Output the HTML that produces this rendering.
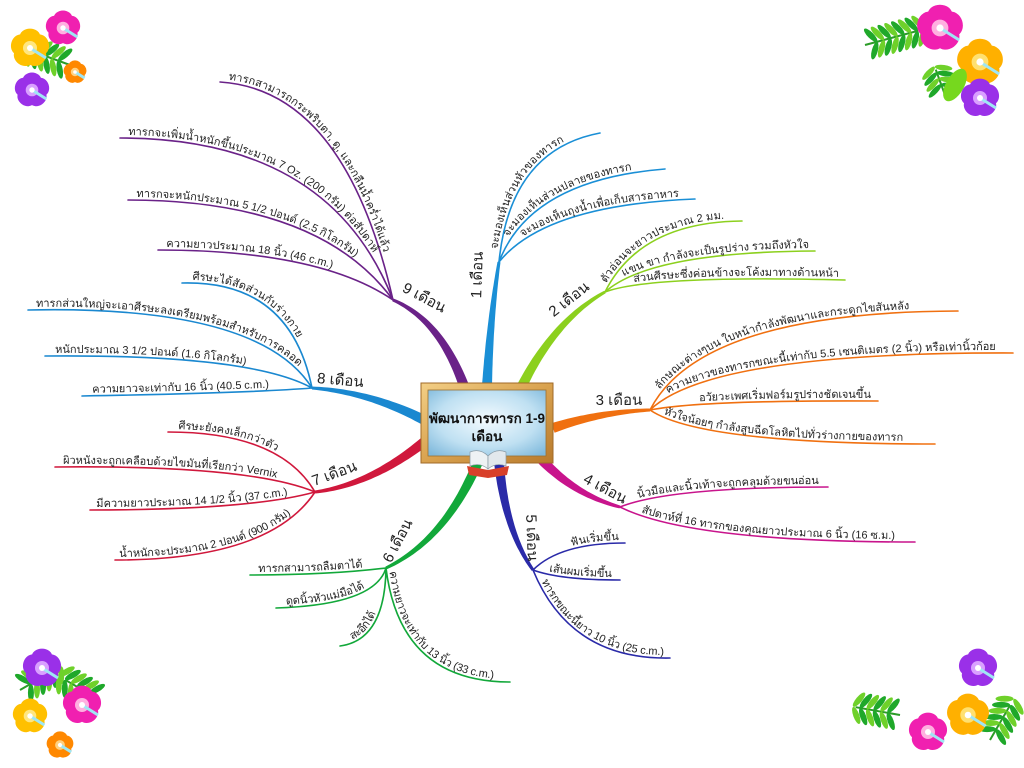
<!DOCTYPE html>
<html><head><meta charset="utf-8">
<style>
html,body{margin:0;padding:0;background:#fff;width:1024px;height:768px;overflow:hidden}
svg{display:block;font-family:"Liberation Sans","DejaVu Sans",sans-serif}
.lf{font-size:11px;fill:#222}
.br{font-size:15px;fill:#222}
</style></head>
<body>
<svg id="s" width="1024" height="768" viewBox="0 0 1024 768" xmlns="http://www.w3.org/2000/svg">
<defs>
<radialGradient id="bg" cx="50%" cy="45%" r="70%"><stop offset="0" stop-color="#f4fbff"/><stop offset="0.6" stop-color="#bfe0f2"/><stop offset="1" stop-color="#7fb9dc"/></radialGradient>
<linearGradient id="fr" x1="0" y1="0" x2="1" y2="1"><stop offset="0" stop-color="#f3cf86"/><stop offset="0.5" stop-color="#d9a24f"/><stop offset="1" stop-color="#b87a2c"/></linearGradient>
</defs>
<g id="flowers"></g>
<g id="leaves"></g>
<g id="trunks"></g>
<g id="labels"></g>
<g id="center">
<rect x="421" y="383" width="132" height="80" fill="url(#fr)" stroke="#a06a28" stroke-width="1"/>
<rect x="428" y="390" width="118" height="66" fill="url(#bg)" stroke="#9c7030" stroke-width="0.8"/>
<text x="487" y="423" text-anchor="middle" font-size="13.5" font-weight="bold" fill="#111">พัฒนาการทารก 1-9</text>
<text x="487" y="441" text-anchor="middle" font-size="13.5" font-weight="bold" fill="#111">เดือน</text>
<path d="M467 466 L488 470 L509 466 L507 475 L488 478 L469 475 Z" fill="#d8402a"/>
<path d="M470 452 Q480 448 488 456 L488 469 Q480 462 470 466 Z" fill="#eef2f4" stroke="#8a9aa4" stroke-width="0.7"/>
<path d="M506 452 Q496 448 488 456 L488 469 Q496 462 506 466 Z" fill="#e2e8ec" stroke="#8a9aa4" stroke-width="0.7"/>
</g>
</svg>
<script>
var NS="http://www.w3.org/2000/svg";
function el(t,a,p,txt){var e=document.createElementNS(NS,t);for(var k in a)e.setAttribute(k,a[k]);if(txt!==undefined)e.textContent=txt;document.getElementById(p).appendChild(e);return e;}
var id=0;
function q(a,c,b,t){var u=1-t;return [u*u*a[0]+2*u*t*c[0]+t*t*b[0],u*u*a[1]+2*u*t*c[1]+t*t*b[1]];}
function trunk(S,C,H,w0,w1,col){
 var L=[],R=[];
 for(var i=0;i<=30;i++){var t=i/30;var p=q(S,C,H,t);var p2=q(S,C,H,Math.min(1,t+0.01)),p1=q(S,C,H,Math.max(0,t-0.01));
  var dx=p2[0]-p1[0],dy=p2[1]-p1[1],l=Math.hypot(dx,dy);var nx=-dy/l,ny=dx/l;var w=(w0+(w1-w0)*t)/2;
  L.push((p[0]+nx*w).toFixed(1)+","+(p[1]+ny*w).toFixed(1));R.unshift((p[0]-nx*w).toFixed(1)+","+(p[1]-ny*w).toFixed(1));}
 el("polygon",{points:L.concat(R).join(" "),fill:col},"trunks");
}
function leaf(H,E,col,txt,opt){
 opt=opt||{};
 var f=opt.f!==undefined?opt.f:0.25;
 var C=opt.c||[H[0]+f*(E[0]-H[0]),E[1]];
 var right=E[0]>H[0];
 var d=right?("M"+H+" Q"+C+" "+E):("M"+E+" Q"+C+" "+H);
 var pid="p"+(id++);
 el("path",{id:pid,d:d,fill:"none",stroke:col,"stroke-width":opt.w||1.6,"stroke-linecap":"round"},"leaves");
 var t=el("text",{"class":"lf",dy:-3},"labels");
 var tp=document.createElementNS(NS,"textPath");tp.setAttribute("href","#"+pid);
 tp.setAttribute("startOffset",opt.o!==undefined?opt.o:(right?12:6));tp.textContent=txt;t.appendChild(tp);
}
function label(x,y,r,txt){el("text",{"class":"br",x:x,y:y,"text-anchor":"middle",transform:"rotate("+r+" "+x+" "+y+")"},"labels",txt);}

var c="#1a8fd6";
trunk([487,386],[490,320],[499,262],10,3,c);
leaf([499,262],[600,133],c,"จะมองเห็นส่วนหัวของทารก",{c:[510,150],o:12});
leaf([499,262],[665,169],c,"จะมองเห็นส่วนปลายของทารก",{c:[530,180],o:26});
leaf([499,262],[695,199],c,"จะมองเห็นถุงน้ำเพื่อเก็บสารอาหาร",{c:[545,205],o:34});
label(482,275,-88,"1 เดือน");
c="#8cd01e";
trunk([522,386],[555,320],[605,292],10,3,c);
leaf([605,292],[742,221],c,"ตัวอ่อนจะยาวประมาณ 2 มม.",{c:[640,222],o:8});
leaf([605,292],[815,251],c,"แขน ขา กำลังจะเป็นรูปร่าง รวมถึงหัวใจ",{c:[650,252],o:24});
leaf([605,292],[845,280],c,"ส่วนศีรษะซึ่งค่อนข้างจะโค้งมาทางด้านหน้า",{c:[650,275],o:30});
label(572,303,-38,"2 เดือน");
c="#f07010";
trunk([553,428],[600,412],[650,410],10,3,c);
leaf([650,410],[958,311],c,"ลักษณะต่างๆบน ใบหน้ากำลังพัฒนาและกระดูกไขสันหลัง",{c:[700,312],o:22});
leaf([650,410],[1013,353],c,"ความยาวของทารกขณะนี้เท่ากับ 5.5 เซนติเมตร (2 นิ้ว) หรือเท่านิ้วก้อย",{c:[710,352],o:24});
leaf([650,410],[878,401],c,"อวัยวะเพศเริ่มฟอร์มรูปร่างชัดเจนขึ้น",{c:[700,400],o:50});
leaf([650,410],[935,444],c,"หัวใจน้อยๆ กำลังสูบฉีดโลหิตไปทั่วร่างกายของทารก",{c:[700,444],o:14});
label(619,405,0,"3 เดือน");
c="#c8148c";
trunk([542,460],[575,495],[620,507],10,3,c);
leaf([620,507],[828,487],c,"นิ้วมือและนิ้วเท้าจะถูกคลุมด้วยขนอ่อน",{c:[670,487],o:20});
leaf([620,507],[915,542],c,"สัปดาห์ที่ 16 ทารกของคุณยาวประมาณ 6 นิ้ว (16 ซ.ม.)",{c:[690,542],o:22});
label(603,493,28,"4 เดือน");
c="#2a2aa8";
trunk([499,462],[505,530],[533,570],10,3,c);
leaf([533,570],[625,543],c,"ฟันเริ่มขึ้น",{c:[560,543],o:45});
leaf([533,570],[620,580],c,"เส้นผมเริ่มขึ้น",{c:[560,580],o:16});
leaf([533,570],[670,658],c,"ทารกขณะนี้ยาว 10 นิ้ว (25 c.m.)",{c:[570,660],o:14});
label(527,538,88,"5 เดือน");
c="#12a83a";
trunk([478,462],[445,540],[386,568],10,3,c);
leaf([386,568],[250,575],c,"ทารกสามารถลืมตาได้",{c:[330,575],o:8});
leaf([386,568],[276,608],c,"ดูดนิ้วหัวแม่มือได้",{c:[375,605],o:10});
leaf([386,568],[340,646],c,"สะอึกได้",{c:[385,640],o:14});
leaf([386,568],[510,682],c,"ความยาวจะเท่ากับ 13 นิ้ว (33 c.m.)",{c:[400,682],o:4});
label(402,543,-62,"6 เดือน");
c="#d0183c";
trunk([424,442],[370,485],[315,492],10,3,c);
leaf([315,492],[168,432],c,"ศีรษะยังคงเล็กกว่าตัว",{c:[280,432],o:10});
leaf([315,492],[55,467],c,"ผิวหนังจะถูกเคลือบด้วยไขมันที่เรียกว่า Vernix",{c:[250,465],o:8});
leaf([315,492],[90,510],c,"มีความยาวประมาณ 14 1/2 นิ้ว (37 c.m.)",{c:[250,510],o:6});
leaf([315,492],[115,560],c,"น้ำหนักจะประมาณ 2 ปอนด์ (900 กรัม)",{c:[270,560],o:4});
label(336,478,-20,"7 เดือน");
c="#1a88d0";
trunk([424,420],[370,392],[312,388],10,3,c);
leaf([312,388],[182,283],c,"ศีรษะได้สัดส่วนกับร่างกาย",{c:[290,280],o:10});
leaf([312,388],[28,310],c,"ทารกส่วนใหญ่จะเอาศีรษะลงเตรียมพร้อมสำหรับการคลอด",{c:[260,305],o:8});
leaf([312,388],[45,356],c,"หนักประมาณ 3 1/2 ปอนด์ (1.6 กิโลกรัม)",{c:[250,354],o:10});
leaf([312,388],[82,396],c,"ความยาวจะเท่ากับ 16 นิ้ว (40.5 c.m.)",{c:[250,393],o:10});
label(340,385,5,"8 เดือน");
c="#6a2288";
trunk([464,386],[440,320],[393,300],10,3,c);
leaf([393,300],[220,82],c,"ทารกสามารถกระพริบตา, ดู, และกลืนน้ำคร่ำได้แล้ว",{c:[345,90],o:8});
leaf([393,300],[120,138],c,"ทารกจะเพิ่มน้ำหนักขึ้นประมาณ 7 Oz. (200 กรัม) ต่อสัปดาห์",{c:[330,138],o:8});
leaf([393,300],[128,200],c,"ทารกจะหนักประมาณ 5 1/2 ปอนด์ (2.5 กิโลกรัม)",{c:[320,200],o:8});
leaf([393,300],[158,250],c,"ความยาวประมาณ 18 นิ้ว (46 c.m.)",{c:[320,250],o:8});
label(422,302,28,"9 เดือน");

function fern(x,y,r,len,s){var g=el("g",{transform:"translate("+x+","+y+") rotate("+r+") scale("+s+",1)"},"flowers");
 var p=document.createElementNS(NS,"path");p.setAttribute("d","M0 0 L"+len+" 0");p.setAttribute("stroke","#2c9c28");p.setAttribute("stroke-width","2");g.appendChild(p);
 for(var i=4;i<len;i+=7){[1,-1].forEach(function(d){var e=document.createElementNS(NS,"ellipse");e.setAttribute("cx",i+4);e.setAttribute("cy",d*8);e.setAttribute("rx",3);e.setAttribute("ry",9);e.setAttribute("fill",i%14<7?"#1fa82a":"#6fd12a");e.setAttribute("transform","rotate("+(d*30)+" "+(i+4)+" "+(d*8)+")");g.appendChild(e);});}
}
function flower(x,y,r,col,dark){
 for(var i=0;i<5;i++){var a=i*72-90;var px=x+Math.cos(a*Math.PI/180)*r*0.55,py=y+Math.sin(a*Math.PI/180)*r*0.55;
  el("ellipse",{cx:px,cy:py,rx:r*0.52,ry:r*0.42,fill:col,transform:"rotate("+(a+90)+" "+px+" "+py+")"},"flowers");}
 el("circle",{cx:x,cy:y,r:r*0.35,fill:dark},"flowers");
 el("path",{d:"M"+x+" "+y+" l"+(r*0.8)+" "+(r*0.5),stroke:"#9fe6f4","stroke-width":3},"flowers");
 el("circle",{cx:x,cy:y,r:r*0.15,fill:"#fff"},"flowers");
}
fern(865,45,-15,55,1);fern(945,95,-110,30,0.9);
flower(940,28,24,"#f020b0","#ffb0e0");flower(980,62,24,"#ffb000","#ffe070");flower(980,98,20,"#9a30e8","#d9a0ff");
el("ellipse",{cx:955,cy:85,rx:9,ry:18,fill:"#76d81e",transform:"rotate(30 955 85)"},"flowers");
fern(70,65,200,40,1);
flower(30,48,20,"#ffc000","#ffe680");flower(63,28,18,"#f020b0","#ffb0e0");flower(32,90,18,"#9a30e8","#d9a0ff");flower(75,72,12,"#ff8800","#ffd080");
fern(20,690,-30,45,1);fern(100,700,-150,40,1);
flower(42,668,20,"#9a30e8","#d9a0ff");flower(82,705,20,"#f020b0","#ffb0e0");flower(30,716,18,"#ffc000","#ffe680");flower(60,745,14,"#ff8800","#ffd080");
fern(900,715,-170,45,1);fern(990,740,-60,40,1);
flower(978,668,20,"#9a30e8","#d9a0ff");flower(968,715,22,"#ffb000","#ffe070");flower(928,732,20,"#f020b0","#ffb0e0");
</script>
</body></html>
